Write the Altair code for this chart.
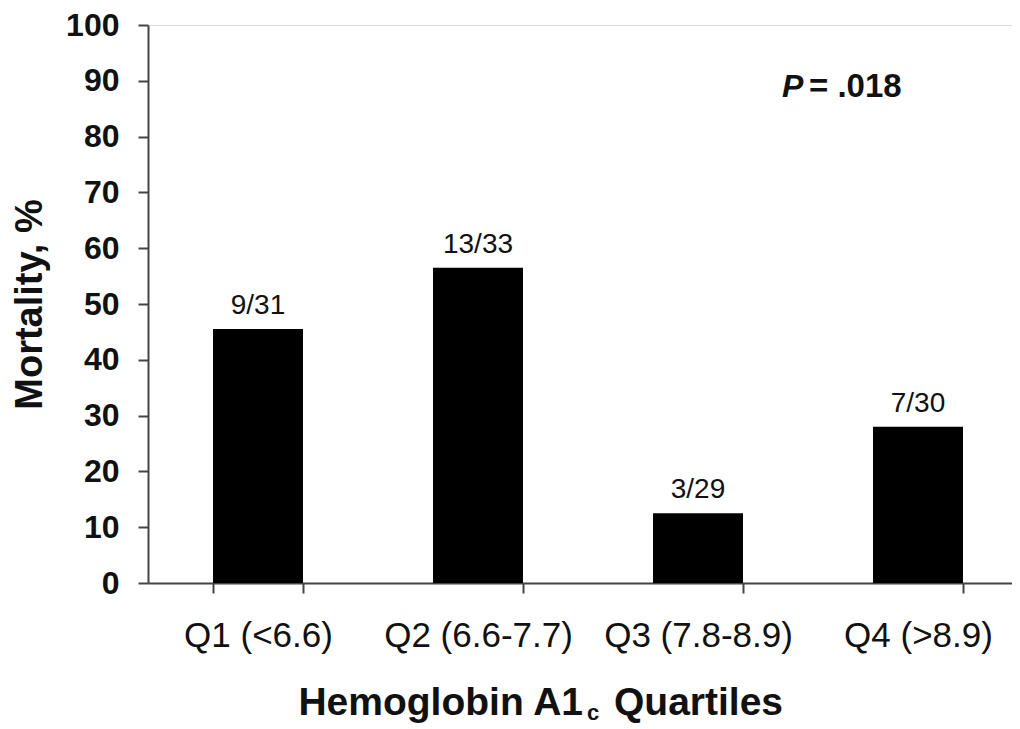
import altair as alt
import pandas as pd

# ---- data ----
quartiles = ["Q1 (<6.6)", "Q2 (6.6-7.7)", "Q3 (7.8-8.9)", "Q4 (>8.9)"]
mortality = [45.5, 56.5, 12.5, 28.0]
bar_labels = ["9/31", "13/33", "3/29", "7/30"]
y_ticks = [0, 10, 20, 30, 40, 50, 60, 70, 80, 90, 100]
x_title_main = ["Hemoglobin A1"]
x_title_sub = ["c"]
x_title_tail = ["Quartiles"]
p_symbol = ["P"]
p_value = ["= .018"]

FONT = "Liberation Sans"

df = pd.DataFrame({"q": quartiles, "m": mortality, "lab": bar_labels})

x_enc = alt.X(
    "q:N",
    sort=quartiles,
    scale=alt.Scale(paddingInner=0.591, paddingOuter=0.2955),
    axis=alt.Axis(
        title=None,
        labelAngle=0,
        labelFont=FONT,
        labelFontSize=35,
        labelFontWeight="normal",
        labelColor="#111",
        labelPadding=25,
        labelLimit=0,
        labelOverlap=False,
        tickBand="extent",
        tickSize=10,
        tickWidth=2,
        tickColor="#444",
        domainColor="#444",
        domainWidth=2,
        grid=False,
    ),
)
y_enc = alt.Y(
    "m:Q",
    scale=alt.Scale(domain=[0, 100], nice=False),
    axis=alt.Axis(
        title="Mortality, %",
        values=y_ticks,
        labelFont=FONT,
        labelFontSize=32,
        labelFontWeight="bold",
        labelColor="#111",
        labelPadding=19,
        tickSize=10,
        tickWidth=2,
        tickColor="#444",
        domainColor="#444",
        domainWidth=2,
        grid=False,
        titleFont=FONT,
        titleFontSize=38,
        titleFontWeight="bold",
        titleColor="#111",
        titleX=-118,
        titleY=279,
        titleAngle=270,
        titleAlign="center",
        titleBaseline="middle",
    ),
)

base = alt.Chart(df)

bars = base.mark_bar(color="black").encode(x=x_enc, y=y_enc)

labels = base.mark_text(
    font=FONT, fontSize=28, fontWeight="normal", color="#111",
    baseline="alphabetic", dy=-15,
).encode(x=alt.X("q:N", sort=quartiles), y="m:Q", text="lab:N")

t_main = alt.Chart(pd.DataFrame({"t": x_title_main})).mark_text(
    font=FONT, fontSize=39, fontWeight="bold", color="#111",
    align="right", baseline="alphabetic",
).encode(text="t:N", x=alt.value(435), y=alt.value(690))

t_sub = alt.Chart(pd.DataFrame({"t": x_title_sub})).mark_text(
    font=FONT, fontSize=22, fontWeight="bold", color="#111",
    align="left", baseline="alphabetic",
).encode(text="t:N", x=alt.value(439), y=alt.value(695))

t_tail = alt.Chart(pd.DataFrame({"t": x_title_tail})).mark_text(
    font=FONT, fontSize=39, fontWeight="bold", color="#111",
    align="left", baseline="alphabetic",
).encode(text="t:N", x=alt.value(466), y=alt.value(690))

p_sym = alt.Chart(pd.DataFrame({"t": p_symbol})).mark_text(
    font=FONT, fontSize=32, fontWeight="bold", fontStyle="italic", color="#111",
    align="left", baseline="alphabetic",
).encode(text="t:N", x=alt.value(634), y=alt.value(72))

p_val = alt.Chart(pd.DataFrame({"t": p_value})).mark_text(
    font=FONT, fontSize=33, fontWeight="bold", color="#111",
    align="left", baseline="alphabetic",
).encode(text="t:N", x=alt.value(661), y=alt.value(72))

chart = (
    alt.layer(bars, labels, t_main, t_sub, t_tail, p_sym, p_val)
    .properties(
        width=880,
        height=558,
        autosize=alt.AutoSizeParams(type="none"),
        padding={"left": 140, "top": 17, "right": -16, "bottom": 144},
    )
    .configure_view(stroke=None)
    .configure(background="white")
)

chart.save("out.html", embed_options={"renderer": "svg", "actions": False})
